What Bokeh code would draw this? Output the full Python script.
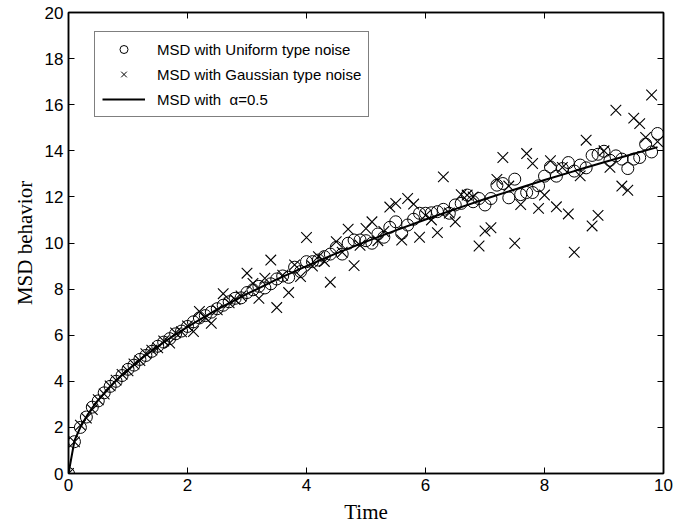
from bokeh.plotting import figure
from bokeh.models import Range1d, LinearAxis, FixedTicker, Legend, LegendItem, ColumnDataSource, CustomJSTickFormatter
from bokeh.embed import file_html
from bokeh.resources import INLINE

# ---- data ----
time = [0.0, 0.1, 0.2, 0.3, 0.4, 0.5, 0.6, 0.7, 0.8, 0.9,
        1.0, 1.1, 1.2, 1.3, 1.4, 1.5, 1.6, 1.7, 1.8, 1.9,
        2.0, 2.1, 2.2, 2.3, 2.4, 2.5, 2.6, 2.7, 2.8, 2.9,
        3.0, 3.1, 3.2, 3.3, 3.4, 3.5, 3.6, 3.7, 3.8, 3.9,
        4.0, 4.1, 4.2, 4.3, 4.4, 4.5, 4.6, 4.7, 4.8, 4.9,
        5.0, 5.1, 5.2, 5.3, 5.4, 5.5, 5.6, 5.7, 5.8, 5.9,
        6.0, 6.1, 6.2, 6.3, 6.4, 6.5, 6.6, 6.7, 6.8, 6.9,
        7.0, 7.1, 7.2, 7.3, 7.4, 7.5, 7.6, 7.7, 7.8, 7.9,
        8.0, 8.1, 8.2, 8.3, 8.4, 8.5, 8.6, 8.7, 8.8, 8.9,
        9.0, 9.1, 9.2, 9.3, 9.4, 9.5, 9.6, 9.7, 9.8, 9.9]

msd_uniform = [0.0, 1.38, 2.0, 2.45, 2.88, 3.15, 3.50, 3.78, 4.0, 4.25,
               4.52, 4.70, 4.95, 5.12, 5.30, 5.52, 5.70, 5.85, 6.06, 6.18,
               6.38, 6.58, 6.75, 6.85, 7.0, 7.15, 7.30, 7.45, 7.60, 7.62,
               7.85, 7.97, 8.12, 8.05, 8.23, 8.44, 8.57, 8.51, 8.95, 8.76,
               9.19, 9.19, 9.26, 9.41, 9.52, 9.81, 9.52, 9.99, 10.13, 10.13,
               10.10, 9.99, 10.39, 10.25, 10.68, 10.92, 10.42, 10.78, 11.03, 11.29,
               11.29, 11.31, 11.36, 11.46, 11.29, 11.65, 11.72, 12.08, 11.79, 11.93,
               11.65, 11.93, 12.51, 12.58, 11.96, 12.77, 12.10, 12.19, 12.19, 12.48,
               12.90, 13.30, 12.90, 13.23, 13.49, 13.12, 13.38, 13.26, 13.80, 13.85,
               13.98, 13.59, 13.78, 13.64, 13.23, 13.64, 13.71, 14.29, 13.95, 14.75]

msd_gaussian = [0.0, 1.37, 2.1, 2.4, 2.77, 3.2, 3.45, 3.8, 4.05, 4.3,
                4.45, 4.75, 4.9, 5.2, 5.35, 5.45, 5.75, 5.66, 6.1, 6.15,
                6.4, 6.16, 7.03, 6.75, 6.52, 7.1, 7.8, 7.4, 7.55, 7.7,
                8.69, 8.25, 7.6, 8.47, 9.26, 7.2, 8.6, 7.85, 9.05, 8.54,
                10.24, 9.0, 9.41, 9.2, 8.3, 10.06, 9.6, 10.6, 9.02, 9.9,
                10.63, 10.92, 10.1, 10.5, 11.56, 11.72, 10.13, 11.93, 11.69, 10.25,
                11.2, 11.0, 10.45, 12.87, 11.3, 10.92, 12.1, 12.08, 12.0, 9.87,
                10.52, 10.66, 12.76, 13.71, 12.47, 9.99, 11.67, 13.88, 13.45, 11.5,
                12.08, 13.57, 11.57, 13.28, 11.26, 9.6, 12.91, 14.46, 10.74, 11.2,
                14.0, 13.28, 15.76, 12.47, 12.29, 15.42, 15.18, 14.58, 16.42, 14.4]

line_time = [0.0, 0.1, 0.2, 0.3, 0.4, 0.5, 0.6, 0.7, 0.8, 0.9, 1.0, 1.25, 1.5, 1.75,
             2.0, 2.5, 3.0, 3.5, 4.0, 4.5, 5.0, 5.5, 6.0, 6.5, 7.0, 7.5, 8.0, 8.5,
             9.0, 9.5, 9.9]
line_msd = [0.0, 1.42, 2.01, 2.46, 2.85, 3.18, 3.49, 3.76, 4.02, 4.27, 4.5, 5.03, 5.51, 5.95,
            6.36, 7.12, 7.79, 8.42, 9.0, 9.55, 10.06, 10.55, 11.02, 11.47, 11.91, 12.32, 12.73, 13.12,
            13.5, 13.87, 14.16]

x_ticks = [0, 2, 4, 6, 8, 10]
y_ticks = [0, 2, 4, 6, 8, 10, 12, 14, 16, 18, 20]

TICK_FONT = "Liberation Sans"
LABEL_FONT = "Liberation Serif"

p = figure(width=685, height=526, x_range=Range1d(0, 10), y_range=Range1d(0, 20),
           output_backend="svg", toolbar_location=None,
           min_border_left=68, min_border_right=22, min_border_top=12, min_border_bottom=52)
p.grid.visible = False
p.outline_line_color = "black"
p.outline_line_width = 1.5
p.background_fill_color = "white"
p.border_fill_color = "white"

def style_axis(ax, ticks, show_labels=True):
    ax.ticker = FixedTicker(ticks=ticks)
    ax.major_tick_in = 6
    ax.major_tick_out = 0
    ax.major_tick_line_color = "black"
    ax.major_tick_line_width = 1
    ax.minor_tick_line_color = None
    ax.axis_line_color = "black"
    ax.axis_line_width = 1.5
    if show_labels:
        ax.major_label_text_font = TICK_FONT
        ax.major_label_text_font_size = "17px"
        ax.major_label_text_color = "black"
        ax.major_label_standoff = 5
        ax.axis_label_text_font = LABEL_FONT
        ax.axis_label_text_font_size = "21px"
        ax.axis_label_text_font_style = "normal"
        ax.axis_label_text_color = "black"
    else:
        ax.formatter = CustomJSTickFormatter(code="return ''")
        ax.major_label_standoff = 0

p.xaxis.axis_label = "Time"
p.yaxis.axis_label = "MSD behavior"
style_axis(p.xaxis[0], x_ticks)
style_axis(p.yaxis[0], y_ticks)
p.xaxis.axis_label_standoff = 6
p.yaxis.axis_label_standoff = 5

ax_top = LinearAxis()
style_axis(ax_top, x_ticks, show_labels=False)
p.add_layout(ax_top, "above")
ax_right = LinearAxis()
style_axis(ax_right, y_ticks, show_labels=False)
p.add_layout(ax_right, "right")

src_u = ColumnDataSource(dict(t=time, m=msd_uniform))
src_g = ColumnDataSource(dict(t=time, m=msd_gaussian))
src_l = ColumnDataSource(dict(t=line_time, m=line_msd))

r_u = p.scatter("t", "m", source=src_u, marker="circle", size=12,
                fill_color=None, line_color="black", line_width=1)
r_g = p.scatter("t", "m", source=src_g, marker="x", size=15,
                line_color="black", line_width=1.1)
r_l = p.line("t", "m", source=src_l, line_color="black", line_width=2)

# legend proxies: one off-screen (NaN) point each, drawn with the smaller
# symbols seen in the reference legend
nan = float("nan")
leg_u = p.scatter(x=[nan], y=[nan], marker="circle", size=8, fill_color=None,
                  line_color="black", line_width=1)
leg_g = p.scatter(x=[nan], y=[nan], marker="x", size=9, line_color="black", line_width=1)

legend = Legend(items=[
    LegendItem(label="MSD with Uniform type noise", renderers=[leg_u]),
    LegendItem(label="MSD with Gaussian type noise", renderers=[leg_g]),
    LegendItem(label="MSD with  \u03b1=0.5", renderers=[r_l]),
], location=(26, 356))
legend.label_text_font = TICK_FONT
legend.label_text_font_size = "15px"
legend.label_text_color = "black"
legend.glyph_width = 43
legend.glyph_height = 20
legend.label_height = 20
legend.spacing = 5
legend.padding = 7
legend.margin = 0
legend.label_standoff = 12
legend.border_line_color = "black"
legend.border_line_width = 1
legend.background_fill_color = "white"
legend.background_fill_alpha = 1
p.add_layout(legend, "center")

open("out.html", "w").write(file_html(p, INLINE))
